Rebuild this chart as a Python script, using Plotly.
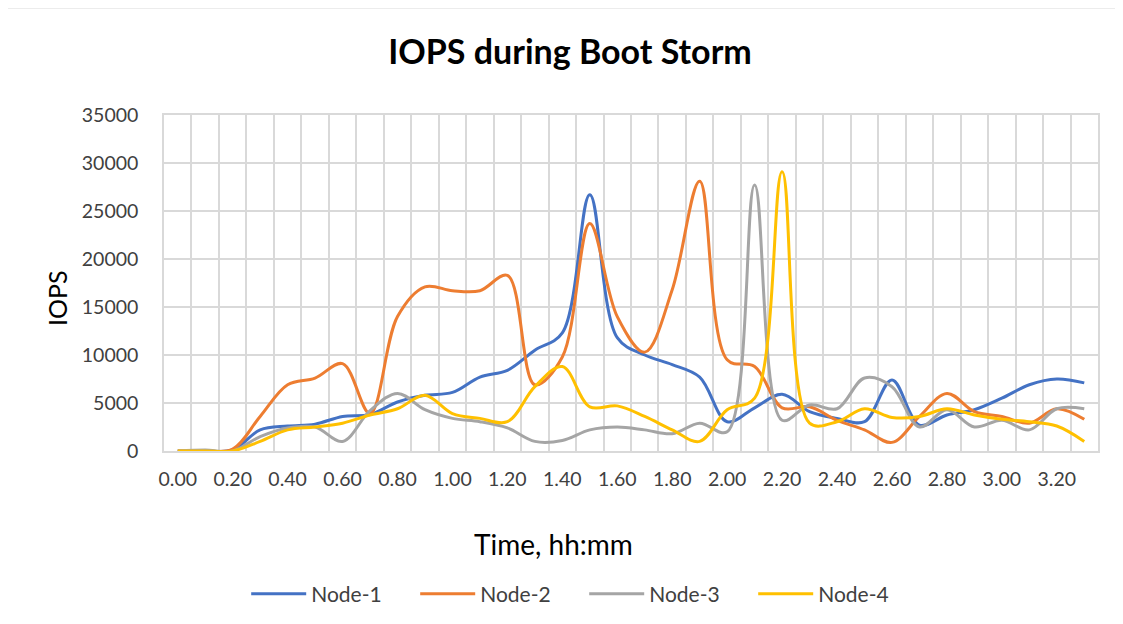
import plotly.graph_objects as go

times = [0.00, 0.10, 0.20, 0.30, 0.40, 0.50, 0.60, 0.70, 0.80, 0.90,
         1.00, 1.10, 1.20, 1.30, 1.40, 1.50, 1.60, 1.70, 1.80, 1.90,
         2.00, 2.10, 2.20, 2.30, 2.40, 2.50, 2.60, 2.70, 2.80, 2.90,
         3.00, 3.10, 3.20, 3.30]

node1 = [0, 0, 100, 2200, 2600, 2800, 3600, 3800, 5100, 5800,
         6100, 7700, 8400, 10500, 12300, 26700, 11800, 10000, 9000, 7700,
         3050, 4500, 5900, 4100, 3400, 3050, 7400, 2700, 3750, 4300,
         5500, 6900, 7500, 7100]

node2 = [0, 0, 200, 3600, 6900, 7600, 9100, 3900, 14000, 17100,
         16700, 16700, 18300, 6900, 9800, 23700, 14000, 10300, 16800, 28100,
         9500, 8800, 4500, 4600, 3200, 2200, 900, 3600, 6000, 4100,
         3600, 2900, 4400, 3300]

node3 = [0, 100, 0, 1500, 2400, 2500, 1000, 4200, 6000, 4300,
         3400, 3050, 2400, 1000, 1100, 2200, 2500, 2200, 1800, 2900,
         2000, 27700, 3200, 4800, 4400, 7600, 6700, 2500, 4300, 2500,
         3200, 2200, 4400, 4400]

node4 = [0, 0, 0, 1000, 2200, 2500, 2900, 3750, 4400, 5800,
         3900, 3400, 3050, 6700, 8800, 4600, 4700, 3600, 2200, 1000,
         4300, 5500, 29100, 2900, 3050, 4400, 3500, 3600, 4400, 3750,
         3300, 3050, 2600, 1000]

series_names = ["Node-1", "Node-2", "Node-3", "Node-4"]
series_values = [node1, node2, node3, node4]
colors = ["#4472C4", "#ED7D31", "#A5A5A5", "#FFC000"]

tick_vals = [0.0, 0.2, 0.4, 0.6, 0.8, 1.0, 1.2, 1.4, 1.6, 1.8, 2.0, 2.2, 2.4, 2.6, 2.8, 3.0, 3.2]
tick_text = ["0.00", "0.20", "0.40", "0.60", "0.80", "1.00", "1.20", "1.40", "1.60",
             "1.80", "2.00", "2.20", "2.40", "2.60", "2.80", "3.00", "3.20"]

chart_title = "IOPS during Boot Storm"
x_title = "Time, hh:mm"
y_title = "IOPS"

FONT = "Lato, Calibri, 'Open Sans', sans-serif"
GRID = "#d9d9d9"
TXT = "#404040"

fig = go.Figure()
for name, vals, col in zip(series_names, series_values, colors):
    fig.add_trace(go.Scatter(
        x=times, y=vals, name=name, mode="lines",
        line=dict(color=col, width=3, shape="spline", smoothing=1.0),
    ))

fig.update_layout(
    width=1115, height=616,
    margin=dict(l=156, r=25, t=107, b=173, autoexpand=False),
    paper_bgcolor="white", plot_bgcolor="white",
    font=dict(family=FONT, size=19.5, color=TXT),
    title=dict(text="<b>" + chart_title + "</b>", x=0.4347, xref="paper", xanchor="center",
               y=1 - 44 / 616, yref="container", yanchor="middle",
               font=dict(family=FONT, size=34, color="#000000")),
    showlegend=True,
    legend=dict(orientation="h", x=0.088, xanchor="left", y=-(586 - 443) / 336, yanchor="middle",
                font=dict(family=FONT, size=21, color=TXT),
                itemwidth=55, entrywidth=99, entrywidthmode="pixels"),
)

fig.update_xaxes(
    range=[-0.05, 3.35],
    tickmode="array", tickvals=tick_vals, ticktext=tick_text,
    showgrid=False, ticks="", zeroline=False, ticklabelstandoff=10,
    showline=True, linecolor=GRID, linewidth=1.5, mirror=True,
    tickfont=dict(family=FONT, size=19.5, color=TXT),
    minor=dict(tick0=-0.05, dtick=0.1, showgrid=True, gridcolor=GRID, gridwidth=1.5, ticks=""),
)

fig.update_yaxes(
    range=[0, 35000], dtick=5000, tick0=0, tickformat="d",
    showgrid=True, gridcolor=GRID, gridwidth=1.5, zeroline=False,
    showline=True, linecolor=GRID, linewidth=1.5, mirror=True,
    ticks="", ticklabelstandoff=20,
    tickfont=dict(family=FONT, size=19.5, color=TXT),
)

# axis titles
fig.add_annotation(text=x_title, xref="paper", yref="paper",
                   x=(545 - 156) / 934, y=-(536 - 443) / 336,
                   xanchor="center", yanchor="middle", showarrow=False,
                   font=dict(family=FONT, size=28, color="#000000"))
fig.add_annotation(text=y_title, xref="paper", yref="paper", textangle=-90,
                   x=(49 - 156) / 934, y=(443 - 290) / 336,
                   xanchor="center", yanchor="middle", showarrow=False,
                   font=dict(family=FONT, size=25, color="#000000"))

# outer chart border
fig.add_shape(type="rect", xref="paper", yref="paper",
              x0=-0.18, x1=(1112 - 156) / 934, y0=-0.55, y1=1 + 107 / 336,
              line=dict(color=GRID, width=1), fillcolor="rgba(0,0,0,0)", layer="below")

fig.write_html("out.html")
